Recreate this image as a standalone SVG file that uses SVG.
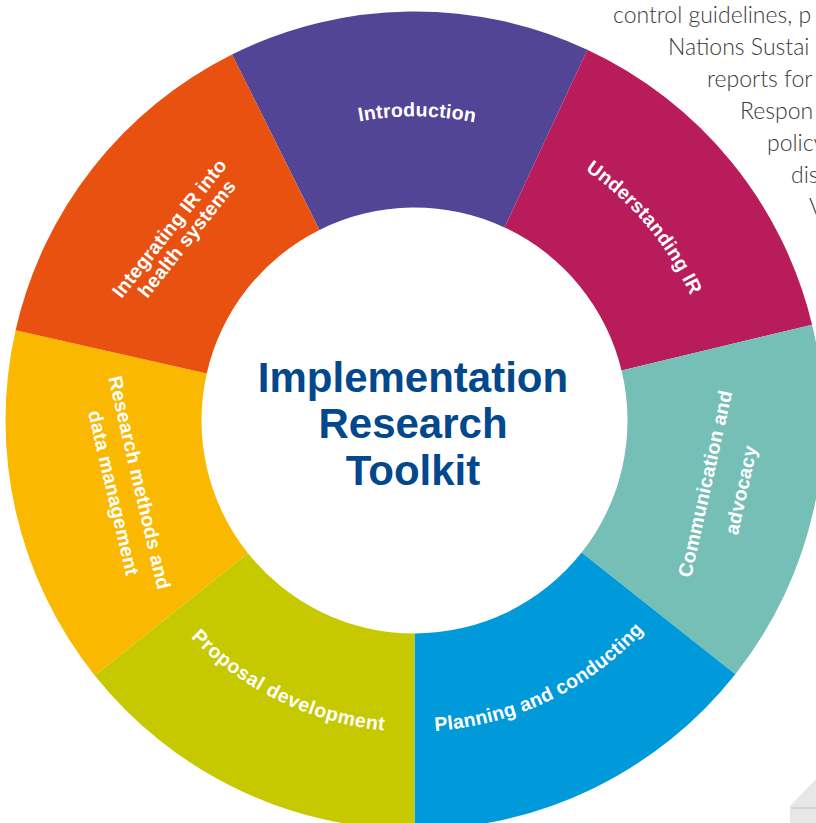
<svg xmlns="http://www.w3.org/2000/svg" width="816" height="823" viewBox="0 0 816 823">
<style>
.lbl{font-family:"Liberation Sans",Arial,sans-serif;font-weight:bold;font-size:19.5px;fill:#ffffff;letter-spacing:0.2px}
.mid{text-anchor:middle}
.title{font-family:"Liberation Sans",Arial,sans-serif;font-weight:bold;font-size:42px;fill:#03478C;text-anchor:middle}
.page{font-family:Lato,"Liberation Sans",sans-serif;font-size:23px;font-weight:300;fill:#3a3a3a}
</style>
<defs>
<path id="p-intro" d="M 222.40 184.47 A 305 305 0 0 1 610.63 187.86"/>
<path id="p-under" d="M 467.12 122.10 A 303 303 0 0 1 717.5 420.5"/>
<path id="p-plan" d="M 337.68 721.87 A 311 311 0 0 0 697.95 548.48"/>
<path id="p-prop" d="M 130.60 548.69 A 311.5 311.5 0 0 0 491.44 722.35"/>
</defs>
<rect width="816" height="823" fill="#ffffff"/>
<g id="page-text" class="page">
<text x="613" y="23">control guidelines, p</text>
<text x="668" y="55">Nations Sustai</text>
<text x="707" y="87">reports for</text>
<text x="740" y="119">Respon</text>
<text x="767" y="151">policy</text>
<text x="791" y="183">dis</text>
<text x="809" y="215">V</text>
</g>
<g id="corner-shape">
<polygon points="790,823 790,806 816,779 816,823" fill="#e7e7e7"/>
<line x1="791" y1="808" x2="816" y2="808" stroke="#cfcfcf" stroke-width="1.5"/>
</g>
<g id="seg-introduction">
<path d="M 232.00 54.47 A 409 409 0 0 1 587.35 49.82 L 504.52 227.46 A 213 213 0 0 0 319.46 229.88 Z" fill="#534596"/>
<text class="lbl mid"><textPath href="#p-intro" startOffset="50%">Introduction</textPath></text>
</g>
<g id="seg-understanding">
<path d="M 587.35 49.82 A 409 409 0 0 1 812.11 324.67 L 621.57 370.59 A 213 213 0 0 0 504.52 227.46 Z" fill="#B91C5B"/>
<text class="lbl mid"><textPath href="#p-under" startOffset="50%">Understanding IR</textPath></text>
</g>
<g id="seg-communication">
<path d="M 812.11 324.67 A 409 409 0 0 1 735.33 674.18 L 581.58 552.61 A 213 213 0 0 0 621.57 370.59 Z" fill="#76BFB7"/>
<g transform="translate(722.75,487.45) rotate(-77.5)">
<text class="lbl mid" x="0" y="-11.4">Communication and</text>
<text class="lbl mid" x="1.4" y="25">advocacy</text>
</g>
</g>
<g id="seg-planning">
<path d="M 735.33 674.18 A 409 409 0 0 1 414.5 829.5 L 414.5 633.5 A 213 213 0 0 0 581.58 552.61 Z" fill="#0099DA"/>
<text class="lbl mid"><textPath href="#p-plan" startOffset="50%">Planning and conducting</textPath></text>
</g>
<g id="seg-proposal">
<path d="M 414.5 829.5 A 409 409 0 0 1 94.71 675.48 L 247.96 553.29 A 213 213 0 0 0 414.5 633.5 Z" fill="#C6C800"/>
<text class="lbl mid" style="letter-spacing:0.5px"><textPath href="#p-prop" startOffset="50%">Proposal development</textPath></text>
</g>
<g id="seg-research">
<path d="M 94.71 675.48 A 409 409 0 0 1 15.59 330.23 L 206.75 373.49 A 213 213 0 0 0 247.96 553.29 Z" fill="#FAB800"/>
<g transform="translate(126.1,485.8) rotate(76.9)">
<text class="lbl mid" x="0" y="-7">Research methods and</text>
<text class="lbl mid" x="4" y="20.5">data management</text>
</g>
</g>
<g id="seg-integrating">
<path d="M 15.59 330.23 A 409 409 0 0 1 232.00 54.47 L 319.46 229.88 A 213 213 0 0 0 206.75 373.49 Z" fill="#E85110"/>
<g transform="translate(177.2,234.3) rotate(-51.5)">
<text class="lbl mid" x="0" y="-3.2">Integrating IR into</text>
<text class="lbl mid" x="2.7" y="16.8">health systems</text>
</g>
</g>
<g id="center-title">
<text class="title" x="413" y="392">Implementation</text>
<text class="title" x="413" y="438.3">Research</text>
<text class="title" x="413" y="485">Toolkit</text>
</g>
</svg>
